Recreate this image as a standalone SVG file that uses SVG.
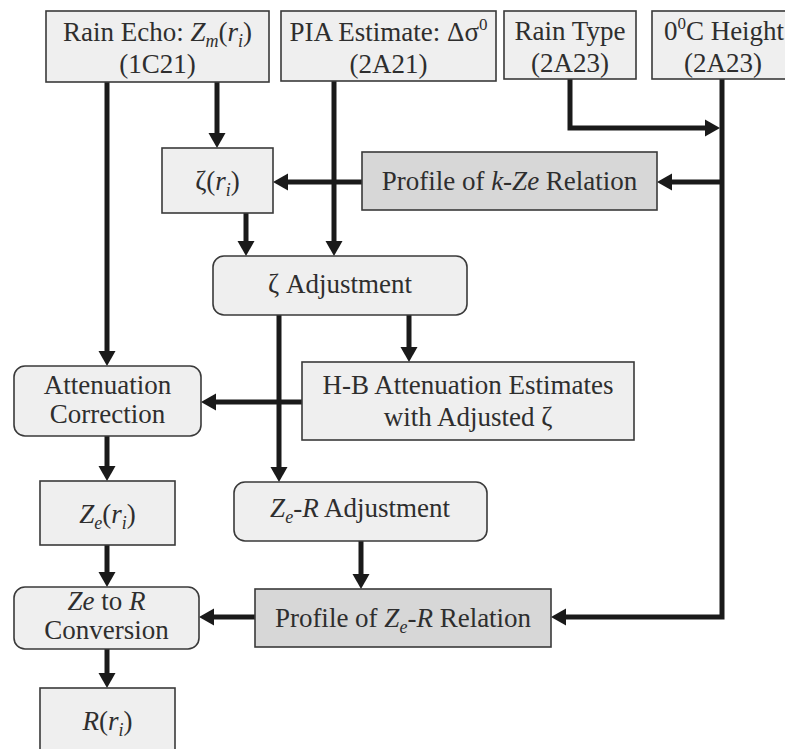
<svg xmlns="http://www.w3.org/2000/svg" width="785" height="749" viewBox="0 0 785 749">
<defs>
<marker id="ah" markerUnits="userSpaceOnUse" markerWidth="16" markerHeight="18" refX="5" refY="8.5" orient="auto" overflow="visible">
<path d="M0,0 L15,8.5 L0,17 z" fill="#1a1a1a" stroke="none"/>
</marker>
</defs>
<rect width="785" height="749" fill="#ffffff"/>

<g id="connectors" fill="none" stroke="#1a1a1a" stroke-width="5" marker-end="url(#ah)">
<path d="M107,82 V356"/>
<path d="M217,82 V138"/>
<path d="M334,81 V246"/>
<path d="M570,79 V128 H710"/>
<path d="M722,79 V617 H561"/>
<path d="M722,182 H667"/>
<path d="M362,182 H283"/>
<path d="M246,213 V246"/>
<path d="M279,315 V472"/>
<path d="M409,315 V352"/>
<path d="M302,402 H211"/>
<path d="M107,436 V471"/>
<path d="M107,545 V577"/>
<path d="M361,541 V579"/>
<path d="M255,617 H209"/>
<path d="M107,649 V678"/>
</g>

<g id="nodes" font-size="27" text-anchor="middle" stroke-width="1.6">
<g id="rain-echo">
<rect x="46" y="11" width="223" height="71" fill="#efefef" stroke="#3a3a3a"/>
<text style="font-family:'Liberation Serif',serif" fill="#2e2e2e" x="157.5" y="41">Rain Echo: <tspan font-style="italic">Z</tspan><tspan font-size="18" font-style="italic" dy="6">m</tspan><tspan dy="-6">(</tspan><tspan font-style="italic">r</tspan><tspan font-size="18" font-style="italic" dy="6">i</tspan><tspan dy="-6">)</tspan></text>
<text style="font-family:'Liberation Serif',serif" fill="#2e2e2e" x="157.5" y="73">(1C21)</text>
</g>

<g id="pia">
<rect x="281" y="11" width="215" height="70" fill="#efefef" stroke="#3a3a3a"/>
<text style="font-family:'Liberation Serif',serif" fill="#2e2e2e" x="388.5" y="41">PIA Estimate: Δσ<tspan font-size="17" dy="-11">0</tspan></text>
<text style="font-family:'Liberation Serif',serif" fill="#2e2e2e" x="388.5" y="73">(2A21)</text>
</g>

<g id="rain-type">
<rect x="504" y="11" width="132" height="68" fill="#efefef" stroke="#3a3a3a"/>
<text style="font-family:'Liberation Serif',serif" fill="#2e2e2e" x="570" y="40">Rain Type</text>
<text style="font-family:'Liberation Serif',serif" fill="#2e2e2e" x="570" y="72">(2A23)</text>
</g>

<g id="zero-height">
<rect x="652" y="11" width="145" height="68" fill="#efefef" stroke="#3a3a3a"/>
<text style="font-family:'Liberation Serif',serif" fill="#2e2e2e" x="724" y="40">0<tspan font-size="17" dy="-11">0</tspan><tspan dy="11">C Height</tspan></text>
<text style="font-family:'Liberation Serif',serif" fill="#2e2e2e" x="723" y="72">(2A23)</text>
</g>

<g id="zeta-ri">
<rect x="162" y="148" width="111" height="65" fill="#efefef" stroke="#3a3a3a"/>
<text style="font-family:'Liberation Serif',serif" fill="#2e2e2e" x="217.5" y="190">ζ(<tspan font-style="italic">r</tspan><tspan font-size="18" font-style="italic" dy="6">i</tspan><tspan dy="-6">)</tspan></text>
</g>

<g id="profile-kze">
<rect x="362" y="152" width="295" height="58" fill="#d7d7d7" stroke="#3a3a3a"/>
<text style="font-family:'Liberation Serif',serif" fill="#2e2e2e" x="509.5" y="190">Profile of <tspan font-style="italic">k</tspan>-<tspan font-style="italic">Ze</tspan> Relation</text>
</g>

<g id="zeta-adj">
<rect x="213" y="256" width="254" height="59" rx="11" fill="#efefef" stroke="#3a3a3a"/>
<text style="font-family:'Liberation Serif',serif" fill="#2e2e2e" x="340" y="293">ζ Adjustment</text>
</g>

<g id="hb">
<rect x="302" y="362" width="332" height="78" fill="#efefef" stroke="#3a3a3a"/>
<text style="font-family:'Liberation Serif',serif" fill="#2e2e2e" x="468" y="394">H-B Attenuation Estimates</text>
<text style="font-family:'Liberation Serif',serif" fill="#2e2e2e" x="468" y="426">with Adjusted ζ</text>
</g>

<g id="att-corr">
<rect x="14" y="366" width="187" height="70" rx="11" fill="#efefef" stroke="#3a3a3a"/>
<text style="font-family:'Liberation Serif',serif" fill="#2e2e2e" x="107.5" y="394">Attenuation</text>
<text style="font-family:'Liberation Serif',serif" fill="#2e2e2e" x="107.5" y="423">Correction</text>
</g>

<g id="ze-ri">
<rect x="40" y="481" width="135" height="64" fill="#efefef" stroke="#3a3a3a"/>
<text style="font-family:'Liberation Serif',serif" fill="#2e2e2e" x="107.5" y="523"><tspan font-style="italic">Z</tspan><tspan font-size="18" font-style="italic" dy="6">e</tspan><tspan dy="-6">(</tspan><tspan font-style="italic">r</tspan><tspan font-size="18" font-style="italic" dy="6">i</tspan><tspan dy="-6">)</tspan></text>
</g>

<g id="zer-adj">
<rect x="234" y="482" width="253" height="59" rx="11" fill="#efefef" stroke="#3a3a3a"/>
<text style="font-family:'Liberation Serif',serif" fill="#2e2e2e" x="360" y="517"><tspan font-style="italic">Z</tspan><tspan font-size="18" font-style="italic" dy="6">e</tspan><tspan dy="-6">-</tspan><tspan font-style="italic">R</tspan> Adjustment</text>
</g>

<g id="ze-to-r">
<rect x="14" y="587" width="185" height="62" rx="11" fill="#efefef" stroke="#3a3a3a"/>
<text style="font-family:'Liberation Serif',serif" fill="#2e2e2e" x="106.5" y="610"><tspan font-style="italic">Ze</tspan> to <tspan font-style="italic">R</tspan></text>
<text style="font-family:'Liberation Serif',serif" fill="#2e2e2e" x="106.5" y="639">Conversion</text>
</g>

<g id="profile-zer">
<rect x="255" y="589" width="296" height="58" fill="#d7d7d7" stroke="#3a3a3a"/>
<text style="font-family:'Liberation Serif',serif" fill="#2e2e2e" x="403" y="627">Profile of <tspan font-style="italic">Z</tspan><tspan font-size="18" font-style="italic" dy="6">e</tspan><tspan dy="-6">-</tspan><tspan font-style="italic">R</tspan> Relation</text>
</g>

<g id="r-ri">
<rect x="40" y="688" width="135" height="72" fill="#efefef" stroke="#3a3a3a"/>
<text style="font-family:'Liberation Serif',serif" fill="#2e2e2e" x="107.5" y="730"><tspan font-style="italic">R</tspan>(<tspan font-style="italic">r</tspan><tspan font-size="18" font-style="italic" dy="6">i</tspan><tspan dy="-6">)</tspan></text>
</g>
</g>
</svg>
